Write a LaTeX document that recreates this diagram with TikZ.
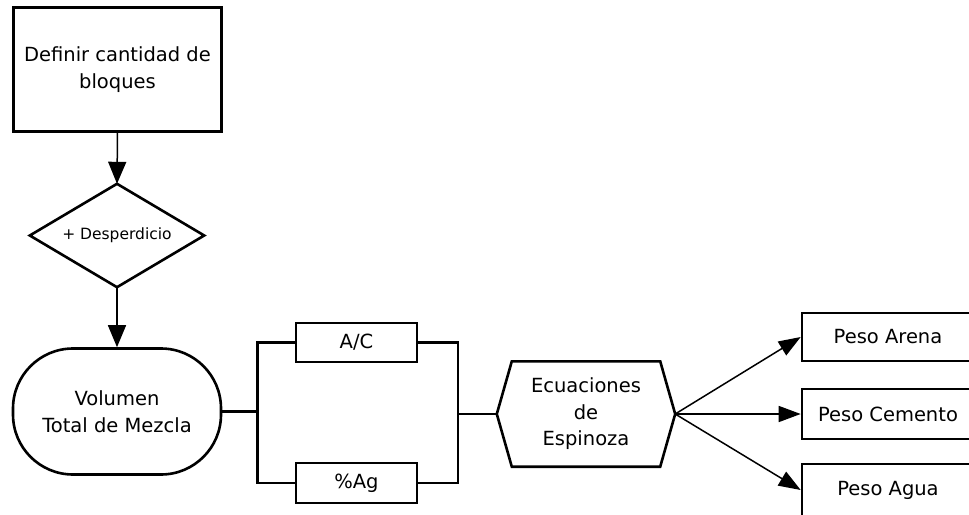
\documentclass[tikz,border=0pt]{standalone}
\usepackage{fontspec}
\setmainfont{DejaVu Sans}
\usetikzlibrary{arrows.meta}
\begin{document}
\begin{tikzpicture}[x=1pt,y=-1pt,
  shapeline/.style={line width=2.6pt},
  conn/.style={line width=2.4pt},
  thinconn/.style={line width=1.5pt},
  flowarrow/.style={-{Triangle[length=22pt,width=18pt]}},
  outarrow/.style={-{Triangle[length=22pt,width=16pt]}},
  txt/.style={font=\fontsize{19.5}{26.5}\selectfont, align=center, inner sep=0pt},
  boxnode/.style={txt, draw, shapeline},
]
\useasboundingbox (0,0) rectangle (969,514);
\clip (0,0) rectangle (969,514);
\fill[white] (0,0) rectangle (969,514);

% top box
\node[boxnode, minimum width=208, minimum height=124] (top) at (117.5,69.5) {Definir cantidad de\\bloques};

% diamond
\node[txt, font=\fontsize{15.5}{18}\selectfont, minimum width=174, minimum height=103] (dia) at (117,235.5) {+ Desperdicio};
\draw[shapeline, line join=miter] (dia.north) -- (dia.east) -- (dia.south) -- (dia.west) -- cycle;

% stadium
\node[boxnode, rounded corners=60pt, minimum width=208, minimum height=126] (vol) at (117,411.5) {Volumen\\Total de Mezcla};

% A/C and %Ag
\node[boxnode, minimum width=121, minimum height=39] (ac) at (356.5,342.5) {A/C};
\node[boxnode, minimum width=121, minimum height=40] (ag) at (356.5,483) {\%Ag};

% hexagon
\node[txt, minimum width=178, minimum height=105] (hex) at (586,414) {Ecuaciones\\de\\Espinoza};
\draw[shapeline, line join=miter] (hex.west) -- ([xshift=15pt]hex.north west) -- ([xshift=-15pt]hex.north east) -- (hex.east) -- ([xshift=-15pt]hex.south east) -- ([xshift=15pt]hex.south west) -- cycle;

% outputs
\node[boxnode, minimum width=172, minimum height=48] (arena) at (888,337) {Peso Arena};
\node[boxnode, minimum width=172, minimum height=50] (cemento) at (888,414) {Peso Cemento};
\node[boxnode, minimum width=172, minimum height=52] (agua) at (888,490) {Peso Agua};

% connectors
\path (vol.east) ++(35,0) coordinate (bl);
\path (hex.west) ++(-39,0) coordinate (br);
\draw[thinconn, flowarrow] (top.south) -- (dia.north);
\draw[thinconn, flowarrow] (dia.south) -- (vol.north);
\draw[conn] (vol.east) -- (bl);
\draw[conn] (ac.west) -| (bl) |- (ag.west);
\draw[conn] (ac.east) -| (br) |- (ag.east);
\draw[conn] (br) -- (hex.west);
\draw[thinconn, outarrow] (hex.east) -- (arena.west);
\draw[thinconn, outarrow] (hex.east) -- (cemento.west);
\draw[thinconn, outarrow] (hex.east) -- (agua.west);
\end{tikzpicture}
\end{document}
